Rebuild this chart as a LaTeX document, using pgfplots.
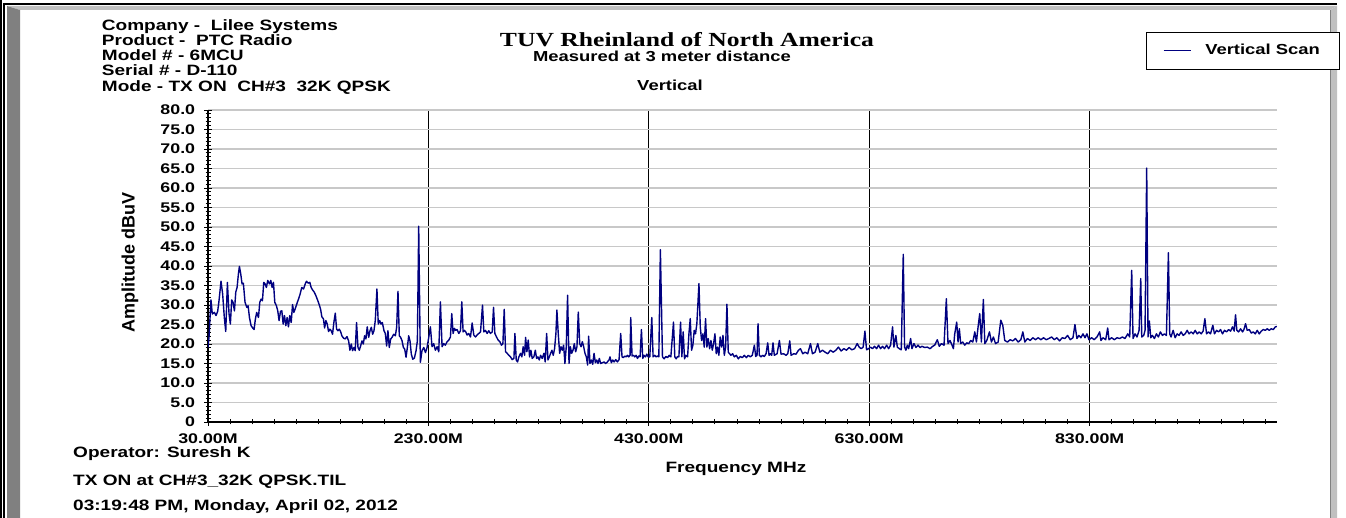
\documentclass[border=0pt]{standalone}
\usepackage{pgfplots}
\pgfplotsset{compat=1.18}
\usepackage{fontspec}
\setmainfont{Liberation Sans}[FakeStretch=1.27]
\newfontfamily\serifwide{Liberation Serif}[FakeStretch=1.28]
\newfontfamily\plainsans{Liberation Sans}
\definecolor{scan}{RGB}{0,0,128}
\definecolor{framedark}{RGB}{128,128,128}
\definecolor{framelight}{RGB}{192,192,192}
\definecolor{gridgray}{RGB}{200,200,200}

\begin{document}
\begin{tikzpicture}
\useasboundingbox (0pt,0pt) rectangle (1346pt,518pt);
% window frame
\fill[black] (0pt,0pt) rectangle (1.7pt,518pt);
\draw[black, line width=1.4pt] (4pt,0pt) -- (4pt,514pt) -- (1337pt,514pt);
\fill[framelight] (7pt,512pt) -- (1337pt,512pt) -- (1330pt,508pt) -- (20pt,508pt) -- cycle;
\fill[framedark] (7pt,512pt) -- (20pt,508pt) -- (20pt,0pt) -- (7pt,0pt) -- cycle;
\fill[framelight] (1330pt,508pt) -- (1337pt,512pt) -- (1337pt,0pt) -- (1330pt,0pt) -- cycle;
\draw[framedark, line width=0.8pt] (1330pt,508pt) -- (1330pt,0pt);

\begin{axis}[
  at={(208pt,96pt)}, anchor=south west,
  scale only axis, width=1069pt, height=312pt,
  xmin=30, xmax=1000, ymin=0, ymax=80,
  axis x line*=bottom, axis y line*=left,
  axis line style={-, black, line width=1.3pt},
  xtick={30,230,430,630,830},
  xticklabels={30.00M,230.00M,430.00M,630.00M,830.00M},
  minor xtick={50,70,...,990},
  ytick={0,5,...,80},
  yticklabels={0,5.0,10.0,15.0,20.0,25.0,30.0,35.0,40.0,45.0,50.0,55.0,60.0,65.0,70.0,75.0,80.0},
  minor y tick num=4,
  tick align=center,
  major tick length=8pt, minor tick length=5pt,
  tick style={black, line width=0.9pt},
  xmajorgrids, ymajorgrids,
  x grid style={black, line width=1.3pt},
  y grid style={gridgray, line width=1.3pt},
  xticklabel style={font=\fontsize{14}{14}\selectfont\bfseries, anchor=base, yshift=-18pt, inner sep=0pt},
  yticklabel style={font=\fontsize{14}{14}\selectfont\bfseries, anchor=east, xshift=-8.7pt, inner sep=0pt},
  xlabel={Frequency MHz},
  xlabel style={at={(axis description cs:0.4939,-0.1625)}, anchor=base, inner sep=0pt,
    font=\fontsize{15}{15}\selectfont\bfseries},
  ylabel={Amplitude dBuV},
  ylabel style={at={(axis description cs:-0.073,0.51)}, anchor=center,
    font=\plainsans\fontsize{18}{18}\selectfont\bfseries},
  legend style={at={(0.9677,1.1907)}, anchor=center, draw=black, line width=0.8pt, fill=white,
    inner xsep=17pt, inner ysep=10.5pt, font=\fontsize{14.5}{14.5}\selectfont\bfseries,
    /tikz/every odd column/.append style={column sep=12pt}},
  legend image code/.code={\draw[#1] (0pt,0pt) -- (27pt,0pt);},
]
\addplot[scan, line width=1.4pt, line join=round] coordinates {
(30,19.1) (30.9,21.7) (32.7,31.3) (33.9,27.7) (35.8,28.1) (37.3,27.3) (38.8,28.4) (40.0,31.1)
(41.8,36.1) (43.3,32.8) (44.8,26.8) (46.1,23.2) (47.6,35.8) (49.1,27.7) (50.3,25.1) (51.5,31.3)
(52.7,30.7) (54.0,28.5) (55.2,33.3) (56.4,34.5) (57.6,38.0) (58.5,39.9) (59.7,38.0) (60.9,35.4)
(62.1,35.6) (63.6,30.7) (65.2,29.4) (66.4,29.8) (67.6,26.8) (69.1,24.7) (70.6,24.1) (71.8,23.7)
(73.0,26.4) (74.2,28.1) (75.8,26.8) (77.0,30.7) (78.2,31.5) (79.4,31.1) (80.6,35.8) (81.8,35.4)
(83.0,34.5) (84.2,36.3) (85.8,35.4) (87.0,36.3) (88.2,34.5) (89.4,35.8) (90.6,30.7) (92.1,29.8)
(93.3,28.5) (94.5,26.0) (95.8,28.4) (97.0,28.5) (98.2,25.1) (99.4,27.3) (100.6,24.7) (101.8,26.8)
(103.0,24.4) (104.2,27.3) (105.5,25.5) (106.7,30.1) (107.9,28.1) (109.1,29.0) (110.6,30.3) (112.1,31.5)
(113.6,32.8) (115.1,34.5) (116.7,34.1) (118.2,35.4) (119.4,36.1) (120.9,35.6) (122.4,35.8) (123.6,34.5)
(124.8,33.9) (126.4,33.3) (127.9,32.4) (129.4,31.3) (130.9,30.1) (132.1,29.0) (133.3,27.0) (134.8,26.4)
(135.8,24.1) (137.0,26.0) (138.2,25.1) (139.4,23.2) (140.6,23.8) (141.8,23.4) (143.0,22.5) (144.2,25.5)
(145.5,27.9) (146.7,23.8) (147.9,23.4) (149.1,23.8) (150.3,23.2) (151.5,22.1) (153.0,21.5) (154.5,21.3)
(156.1,21.9) (157.6,20.8) (158.8,18.4) (160.0,20.0) (161.2,18.3) (162.4,19.1) (163.6,18.3) (164.8,25.5)
(166.1,19.1) (167.3,18.4) (168.5,19.5) (169.7,20.8) (170.9,20.0) (172.1,22.1) (173.3,21.3) (174.5,24.4)
(175.8,21.7) (177.0,23.4) (178.2,24.3) (179.4,22.5) (180.6,23.4) (181.8,26.0) (183.3,34.1) (184.5,25.1)
(185.8,26.0) (187.0,25.1) (188.2,25.5) (189.7,23.4) (190.9,22.7) (192.1,19.5) (193.3,23.4) (194.5,19.1)
(195.8,21.3) (197.0,21.7) (198.5,22.5) (200.0,22.1) (201.2,24.3) (202.4,33.5) (203.6,22.1) (204.8,21.7)
(206.1,20.8) (207.3,19.1) (208.5,18.7) (209.7,16.6) (210.9,19.1) (212.1,22.1) (213.3,20.8) (214.5,17.4)
(215.8,16.1) (217.3,16.4) (218.8,18.3) (220.0,20.8) (221.2,50.2) (222.7,15.3) (224.2,18.3) (225.8,19.1)
(227.3,17.8) (228.8,19.1) (230.3,21.7) (231.8,24.4)
(233.3,19.3) (234.8,20.1) (236.3,18.4) (237.9,19.3) (239.4,18.0) (240.9,30.8) (242.4,19.3) (243.9,20.1)
(245.4,19.7) (247.0,20.6) (248.5,21.0) (250.0,21.8) (251.2,27.8) (252.4,22.7) (253.6,24.0) (254.8,23.5)
(256.0,23.7) (257.6,22.7) (259.1,23.4) (260.3,30.8) (261.5,23.1) (262.7,23.5) (263.9,23.1) (265.1,22.3)
(266.6,22.7) (268.2,21.8) (269.7,25.4) (271.2,22.3) (272.7,21.8) (274.2,22.3) (275.7,22.7) (277.3,23.1)
(279.1,30.0) (280.3,23.1) (281.8,23.5) (283.3,22.7) (284.8,23.4) (286.3,22.7) (287.9,23.1) (289.1,29.4)
(290.3,22.7) (291.8,21.8) (293.3,21.0) (294.8,20.6) (296.3,19.7) (297.6,20.1) (298.8,28.9) (300.0,18.0)
(301.5,17.6) (303.0,17.1) (304.5,16.7) (306.0,16.0) (307.6,16.3) (308.5,22.7) (309.7,15.9) (310.9,15.4)
(312.1,16.7) (313.6,17.6) (314.8,16.7) (316.0,19.3) (317.3,17.1) (318.2,21.7) (319.4,18.0) (320.6,21.0)
(321.8,16.7) (323.0,18.4) (324.2,16.3) (325.7,16.7) (327.0,18.4) (328.2,16.3) (329.4,16.7) (330.6,15.9)
(331.8,17.1) (333.3,16.3) (334.8,17.6) (336.0,15.4) (337.3,22.7) (338.5,15.9) (339.7,16.7) (340.9,17.6)
(342.1,18.4) (343.3,17.1) (344.5,18.8) (345.7,22.7) (346.6,28.7) (347.9,22.3) (349.1,17.6) (350.3,19.3)
(351.5,18.4) (352.7,19.7) (353.9,15.0) (355.1,19.3) (356.3,32.5) (357.6,15.0) (358.8,19.3) (360.0,17.6)
(361.2,18.4) (362.4,20.1) (363.6,18.0) (364.8,19.3) (366.0,28.2) (367.3,20.1) (368.5,19.3) (369.7,20.6)
(370.9,19.3) (372.1,17.6) (373.3,16.7) (374.5,14.6) (375.4,22.0) (376.6,15.0) (377.9,15.9) (379.1,14.8)
(380.3,17.6) (381.5,15.2) (382.7,15.9) (383.9,15.0) (385.1,16.3) (386.3,15.0) (387.9,15.2) (389.4,15.4)
(390.9,15.0) (392.4,15.4) (393.9,15.9) (394.8,16.7) (396.0,15.2) (397.3,15.9) (398.5,15.4) (400.0,16.0)
(401.5,15.4) (403.0,16.0) (404.5,22.7) (405.7,16.7) (406.9,16.5) (408.2,16.9) (409.4,16.7) (410.6,17.1)
(411.8,16.7) (413.0,17.1) (413.6,26.8) (414.8,16.9) (416.0,17.1) (417.3,16.7) (418.5,17.1) (419.7,16.3)
(420.9,16.9) (422.1,16.7) (423.3,23.7) (424.5,16.3) (425.7,17.1) (427.0,16.7) (428.2,17.4) (429.4,16.7)
(430.9,16.7) (432.7,26.8) (433.9,16.7) (435.4,17.1) (436.6,16.7) (437.9,16.9) (439.1,16.7) (440.5,44.2)
(442.4,16.7) (443.9,16.2) (445.5,16.8) (447.0,16.5) (448.5,17.1) (450.0,16.7) (452.4,25.6) (453.6,16.7)
(454.8,16.2) (456.1,16.8) (457.3,16.7) (458.8,25.6) (460.0,16.7) (461.2,23.1) (462.4,16.2) (463.6,17.1)
(465.2,16.7) (466.4,22.6) (467.6,26.5) (468.8,18.4) (470.0,19.7) (471.2,23.5) (472.4,22.6) (473.6,25.2)
(475.5,35.5) (476.7,24.4) (477.9,20.9) (479.1,22.6) (480.3,19.2) (481.5,26.5) (482.7,19.2) (483.9,21.4)
(485.2,18.8) (486.4,20.9) (487.6,18.4) (488.8,20.1) (490.0,22.6) (491.2,17.5) (492.4,19.2) (493.6,17.1)
(494.8,21.8) (496.1,19.2) (497.3,22.2) (498.5,17.1) (499.7,19.2) (500.9,30.2) (502.1,17.9) (503.3,17.5)
(504.5,17.1) (506.1,17.5) (507.6,16.7) (509.4,17.1) (511.2,16.2) (513.0,16.8) (514.8,16.5) (516.7,17.1)
(518.5,16.5) (520.3,17.1) (522.1,16.7) (523.9,17.1) (525.8,19.7) (527.0,16.8) (528.2,17.1) (529.1,25.2)
(530.3,17.1) (531.8,16.7) (533.3,17.1) (534.8,16.8) (536.4,17.5) (537.9,20.3) (539.1,17.1) (540.3,17.5)
(541.5,17.1) (542.7,20.3) (543.9,17.1) (546.4,17.5) (548.5,20.9) (550.0,17.4) (552.4,17.5) (554.5,17.1)
(556.1,17.5) (557.9,20.8) (559.1,17.1) (561.5,17.5) (563.6,17.4) (565.8,18.4) (567.6,18.8) (569.7,17.5)
(571.8,17.9) (574.2,17.5) (576.7,20.1) (578.5,17.5) (580.9,17.9) (583.3,20.1) (585.2,17.9) (587.6,18.4)
(590.0,17.9) (592.4,17.5) (594.8,18.4) (597.3,17.9) (599.7,18.4) (602.1,19.2) (604.5,18.2) (607.0,18.8)
(609.4,18.4) (611.8,19.1) (614.2,18.5) (616.7,18.8) (619.1,20.1) (620.9,19.2) (622.7,18.8) (624.5,19.2)
(626.1,23.3) (627.6,18.5) (629.4,18.8) (631.2,19.2) (633.0,18.8) (634.8,19.4) (636.7,18.8) (638.5,19.7)
(640.3,18.8) (642.1,19.4) (643.9,18.8) (645.8,19.7) (647.6,18.8) (649.4,19.7) (651.2,24.4) (652.4,19.2)
(654.2,22.2) (655.5,19.2) (657.3,18.8) (659.1,18.5)
(660.9,43.0) (662.1,19.2) (663.3,18.4) (664.6,19.7) (665.8,18.8) (667.6,21.4) (668.8,18.8) (670.6,20.1)
(672.4,19.1) (674.3,19.7) (676.1,19.1) (677.9,19.4) (680.3,19.1) (682.7,19.2) (685.2,18.8) (687.6,19.4)
(689.4,19.7) (691.8,21.1) (693.6,19.4) (695.5,20.1) (697.9,19.7) (700.0,31.6) (701.5,20.1) (703.3,20.9)
(705.2,19.7) (706.4,18.8) (707.6,22.6) (709.4,25.6) (710.6,20.5) (711.8,23.9) (713.0,20.1) (714.9,20.5)
(716.7,19.7) (718.5,20.3) (720.3,20.1) (722.1,20.9) (724.0,20.5) (725.8,23.1) (727.3,20.5) (728.8,24.4)
(730.3,27.8) (731.8,20.5) (733.6,31.4) (734.9,20.1) (736.7,20.9) (739.1,23.1) (740.9,20.5) (742.7,21.8)
(744.6,20.1) (747.0,20.5) (749.4,26.1) (751.2,24.8) (753.0,20.9) (755.5,20.5) (757.9,21.1) (760.3,20.8)
(762.7,21.4) (765.2,20.5) (767.6,21.1) (769.4,23.1) (771.2,20.5) (773.6,21.4) (776.1,20.9) (778.5,21.6)
(780.9,21.1) (783.3,21.6) (785.8,21.1) (788.2,21.6) (790.6,21.1) (793.0,21.4) (795.5,21.8) (797.9,21.1)
(800.3,21.6) (802.7,20.8) (805.2,21.6) (807.6,21.4) (810.0,22.2) (812.4,21.1) (814.9,21.6) (816.7,25.0)
(818.5,21.4) (820.3,22.2) (822.1,21.6) (824.0,22.6) (825.8,21.6) (827.6,22.6) (829.4,21.1) (831.8,21.6)
(834.2,21.1) (836.7,21.8) (839.1,23.1) (840.3,20.9) (842.1,21.6) (844.6,21.1) (846.4,24.1) (847.6,21.1)
(850.0,21.6) (852.4,21.1) (854.9,21.6) (857.3,21.4) (859.7,21.8) (862.1,21.4) (864.6,22.6) (866.4,21.8)
(868.2,38.9) (869.4,21.4) (871.2,22.6) (873.0,21.8) (874.9,23.5) (876.4,36.8) (877.3,21.8) (879.1,22.2)
(880.3,23.5) (881.8,65.1) (883.0,21.8) (884.2,25.9) (885.5,21.6) (887.0,22.2) (888.8,21.4) (890.6,22.6)
(892.4,21.8) (894.2,23.1) (896.1,22.2) (897.9,22.6) (899.7,22.2) (901.5,43.4) (902.7,22.6) (903.9,21.8)
(905.8,23.5) (907.6,21.6) (909.4,22.6) (911.2,22.2) (913.0,23.1) (914.9,22.2) (916.7,22.6) (918.5,23.5)
(920.3,22.6) (922.1,23.1) (924.0,22.6) (925.8,23.5) (927.6,22.6) (929.4,23.1) (931.2,22.6) (933.0,23.3)
(934.6,26.5) (936.1,22.6) (937.9,23.1) (939.7,22.6) (941.8,24.8) (943.3,22.6) (945.2,23.5) (947.0,23.1)
(948.8,23.7) (950.6,22.6) (952.4,23.5) (954.3,23.1) (956.1,23.7) (957.9,23.3) (959.7,24.4) (961.2,23.3)
(962.4,27.5) (963.6,23.5) (965.2,23.1) (967.0,23.9) (968.8,23.1) (970.0,23.7) (971.5,25.2) (973.0,23.5)
(974.9,23.7) (976.7,22.8) (978.5,23.1) (980.3,22.6) (982.1,23.5) (983.9,22.6) (985.8,23.3) (987.6,23.7)
(989.4,23.5) (991.2,23.9) (993.0,23.5) (994.8,23.9) (996.7,23.7) (998.5,24.4) (1000,24.5)
};
\addlegendentry{Vertical Scan}
\end{axis}

% header block
\begin{scope}[every node/.style={anchor=base west, inner sep=0pt, font=\fontsize{15}{15}\selectfont\bfseries}]
\node at (101.7pt,487.3pt) {Company -\ \ Lilee Systems};
\node at (101.7pt,472.3pt) {Product -\ \ PTC Radio};
\node at (101.7pt,457pt) {Model \# - 6MCU};
\node at (101.7pt,442pt) {Serial \# - D-110};
\node at (101.7pt,426.3pt) {Mode - TX ON\ \ CH\#3\ \ 32K QPSK};
\node at (73pt,60.7pt) {Operator: Suresh K};
\node at (73pt,32pt) {TX ON at CH\#3\_32K QPSK.TIL};
\node at (73pt,7.3pt) {03:19:48 PM, Monday, April 02, 2012};
\end{scope}

% titles
\node[anchor=base, inner sep=0pt, font=\serifwide\fontsize{20}{20}\selectfont\bfseries] at (687pt,471.3pt) {TUV Rheinland of North America};
\node[anchor=base, inner sep=0pt, font=\fontsize{14.5}{14.5}\selectfont\bfseries] at (662pt,456.5pt) {Measured at 3 meter distance};
\node[anchor=base, inner sep=0pt, font=\fontsize{14.5}{14.5}\selectfont\bfseries] at (670pt,427pt) {Vertical};
\end{tikzpicture}
\end{document}
